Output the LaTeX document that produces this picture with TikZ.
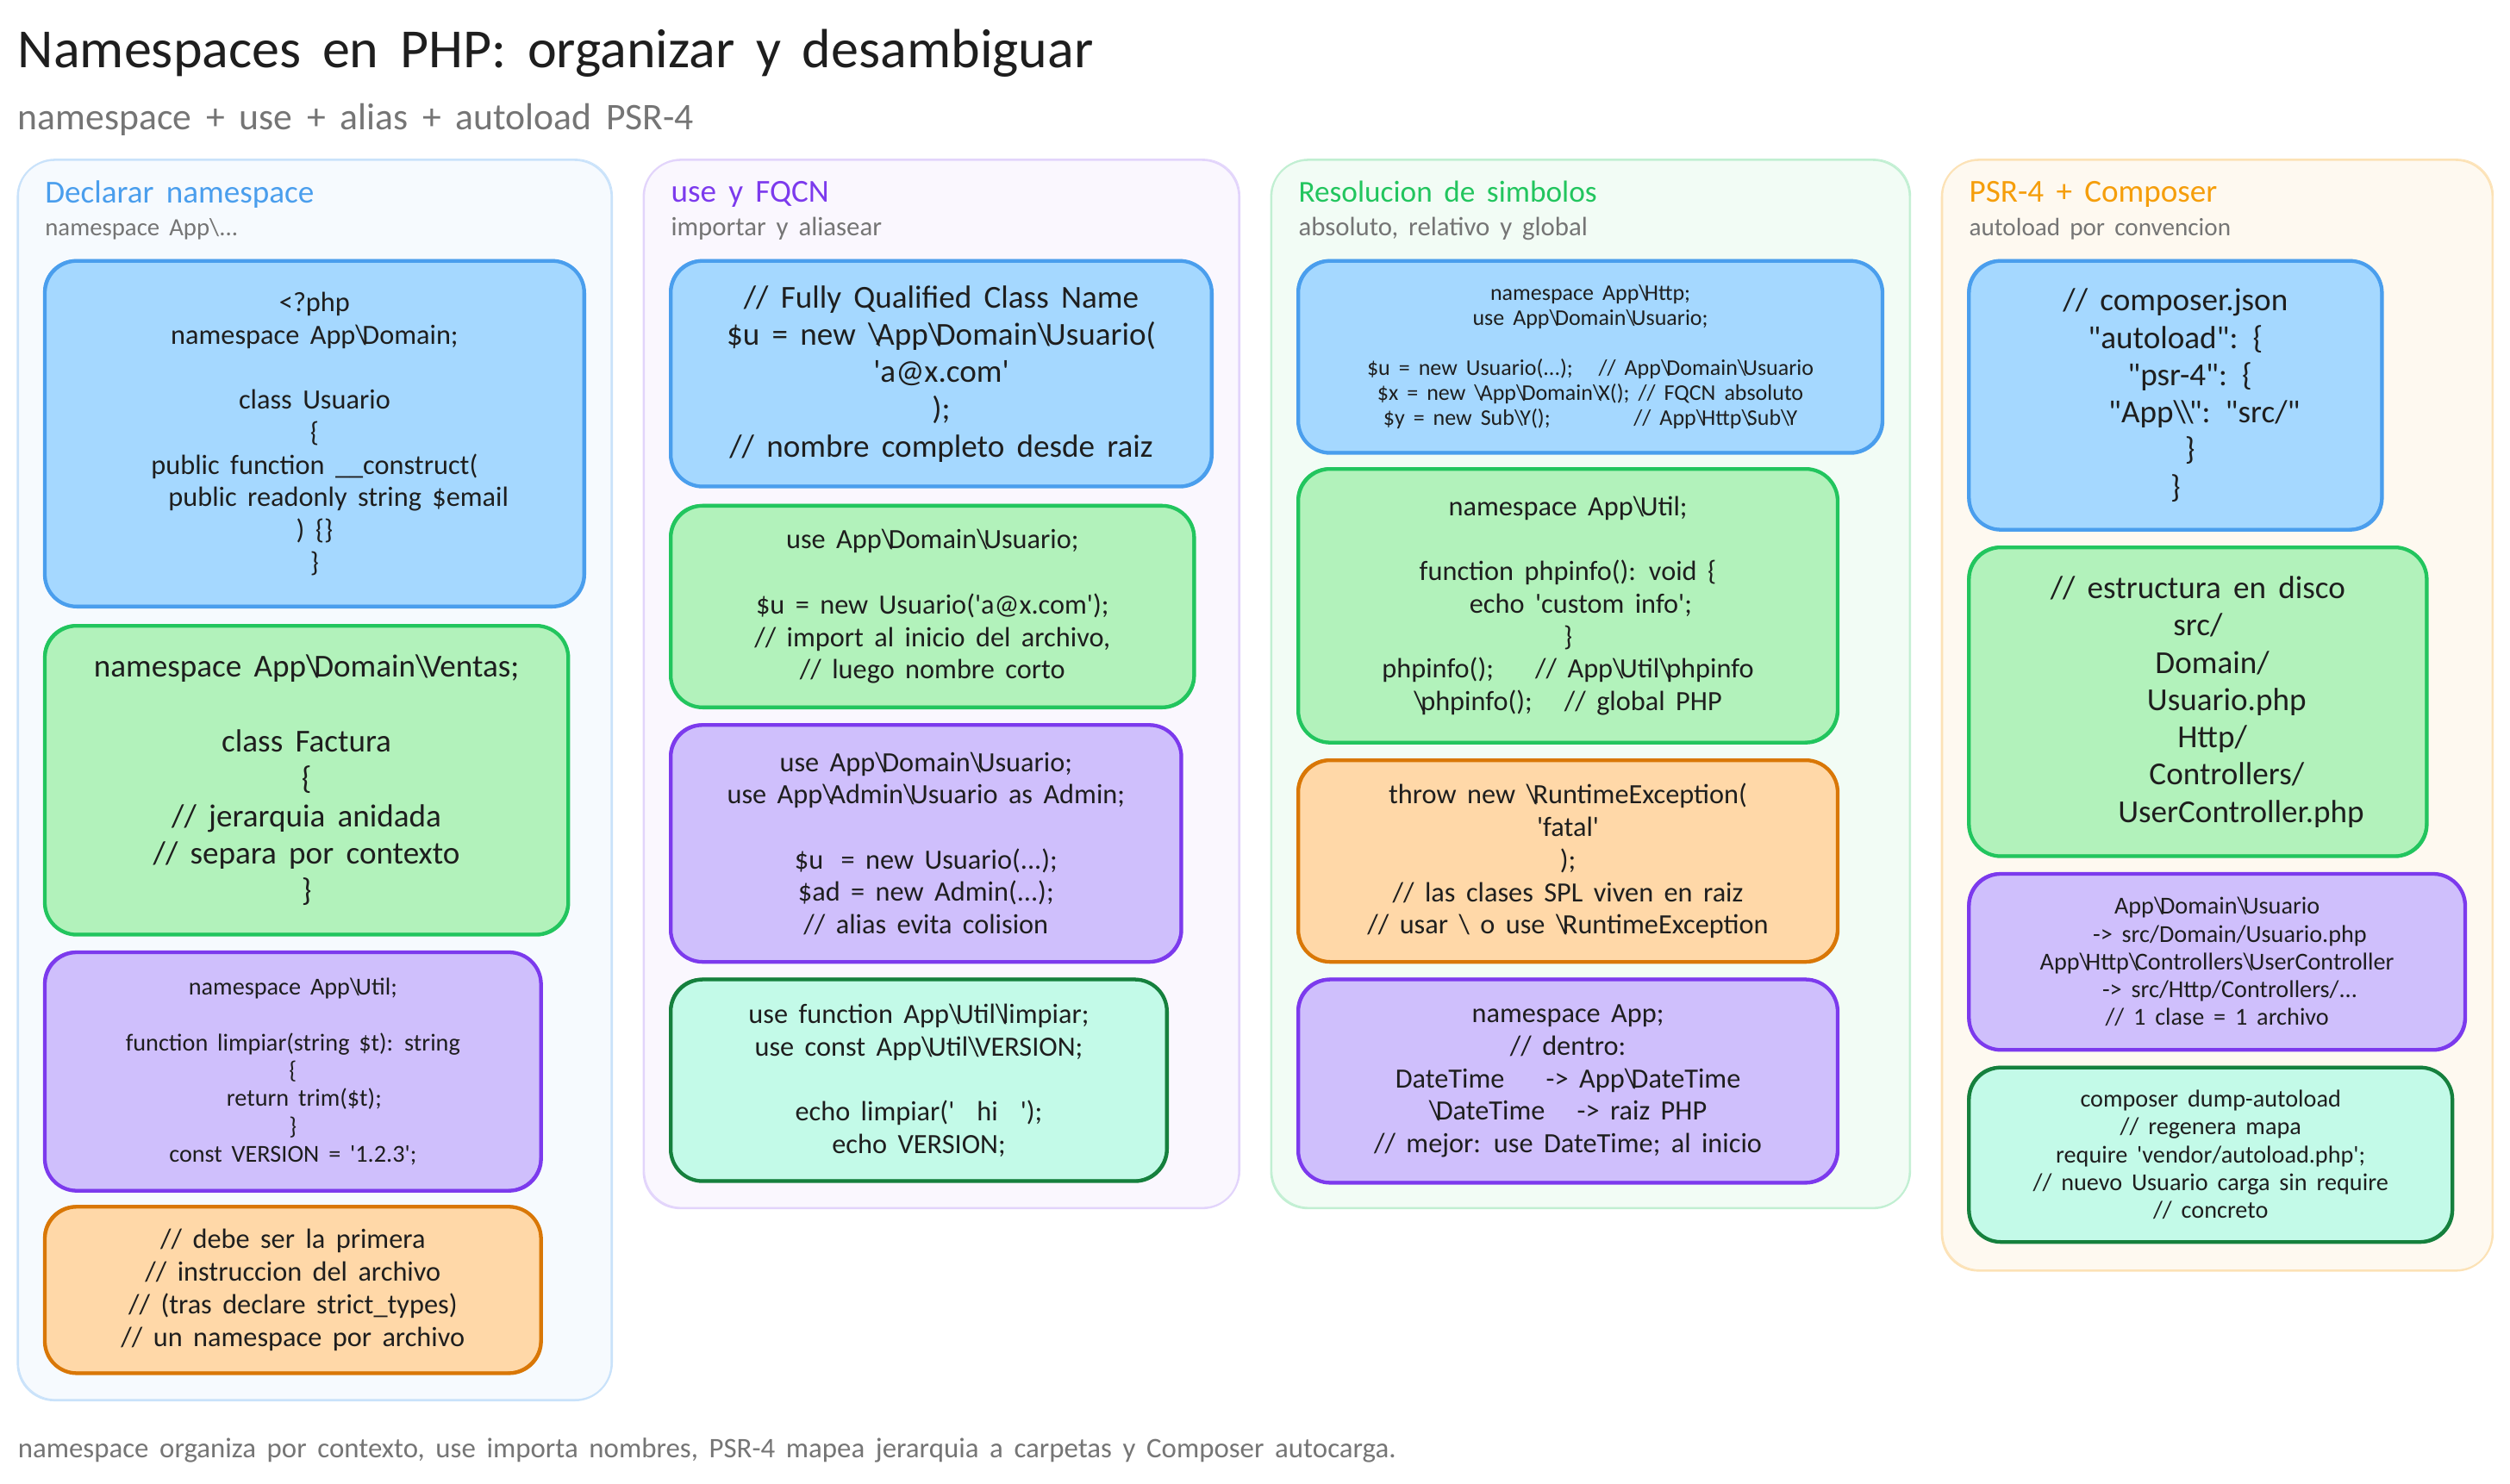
\documentclass[tikz,border=0pt]{standalone}
\usepackage{fontspec}
\newfontfamily\sketchfont[WordSpace=1.7]{Carlito}
\newcommand{\bs}{\textbackslash\kern-0.14em}
\newcommand{\ind}[1]{\hspace*{#1pt}}
\newcommand{\gap}[1]{\hspace{#1pt}}
\newcommand{\blank}{\mbox{}}
\definecolor{titleink}{HTML}{1E1E1E}
\definecolor{greyink}{HTML}{757575}
\definecolor{blueline}{HTML}{4A9EED}
\definecolor{bluefill}{HTML}{A5D8FF}
\definecolor{greenline}{HTML}{22C55E}
\definecolor{greenfill}{HTML}{B2F2BB}
\definecolor{violetline}{HTML}{7C3AED}
\definecolor{violetfill}{HTML}{CFBFFC}
\definecolor{orangeline}{HTML}{D97706}
\definecolor{orangefill}{HTML}{FFD8A8}
\definecolor{tealline}{HTML}{15803D}
\definecolor{tealfill}{HTML}{C3FAE8}
\definecolor{amberline}{HTML}{F59E0B}
\tikzset{
  panel/.style={draw,line width=1.1pt,rounded corners=23pt,inner sep=0pt,postaction={draw,line width=.5pt,transform canvas={shift={(.6pt,.6pt)}}}},
  codebox/.style={draw,line width=2.3pt,rounded corners=20pt,inner sep=0pt,align=center,text=titleink,postaction={draw,line width=.7pt,transform canvas={shift={(-.7pt,.7pt)}}}},
  bluebox/.style={codebox,draw=blueline,fill=bluefill},
  greenbox/.style={codebox,draw=greenline,fill=greenfill},
  violetbox/.style={codebox,draw=violetline,fill=violetfill},
  orangebox/.style={codebox,draw=orangeline,fill=orangefill},
  tealbox/.style={codebox,draw=tealline,fill=tealfill},
  codeS/.style={font=\sketchfont\fontsize{14}{15.7}\selectfont},
  codeM/.style={font=\sketchfont\fontsize{15.2}{17.4}\selectfont},
  codeL/.style={font=\sketchfont\fontsize{17.4}{20.3}\selectfont},
  codeXL/.style={font=\sketchfont\fontsize{20}{23.3}\selectfont},
  heading/.style={anchor=base west,inner sep=0pt,font=\sketchfont\fontsize{#1}{24}\selectfont},
  note/.style={anchor=base west,inner sep=0pt,text=greyink,font=\sketchfont\fontsize{#1}{18}\selectfont},
}
\begin{document}
\begin{tikzpicture}[x=1pt,y=-1pt]
\useasboundingbox (0,0) rectangle (1568,926.7);
\node[anchor=base west,inner sep=0pt,text=titleink,font=\sketchfont\fontsize{34.5}{40}\selectfont] (title) at (11,42) {Namespaces en PHP: organizar y desambiguar};
\node[anchor=base west,inner sep=0pt,text=greyink,font=\sketchfont\fontsize{23.5}{26}\selectfont] (subtitle) at (11,81) {namespace + use + alias + autoload PSR-4};
\node[panel,draw=blueline!30,fill=blueline!5,minimum width=371pt,minimum height=775pt] (declpanel) at (196.5,487.5) {};
\node[panel,draw=violetline!22,fill=violetline!4,minimum width=372pt,minimum height=655pt] (usepanel) at (588,427.5) {};
\node[panel,draw=greenline!28,fill=greenline!6,minimum width=399pt,minimum height=655pt] (respanel) at (993.5,427.5) {};
\node[panel,draw=amberline!30,fill=amberline!6,minimum width=344pt,minimum height=694pt] (psrpanel) at (1385,447) {};
\node[heading=20,text=blueline] (declhead) at (28,127) {Declarar namespace};
\node[note=15.5] (declnote) at (28,147) {namespace App\textbackslash...};
\node[heading=20,text=violetline] (usehead) at (419,126) {use y FQCN};
\node[note=16.6] (usenote) at (419,147) {importar y aliasear};
\node[heading=19,text=greenline] (reshead) at (811,126) {Resolucion de simbolos};
\node[note=16.6] (resnote) at (811,147) {absoluto, relativo y global};
\node[heading=20,text=amberline] (psrhead) at (1230,126) {PSR-4 + Composer};
\node[note=15.7] (psrnote) at (1230,147) {autoload por convencion};
\node[bluebox,codeL,minimum width=337pt,minimum height=216pt] (decla) at (196.5,271) {<?php\\namespace App\bs Domain;\\\blank\\class Usuario\\\{\\public function \_\_construct(\\\ind{30}public readonly string \$email\\) \{\}\\\}};
\node[greenbox,codeXL,minimum width=327pt,minimum height=193pt] (declb) at (191.5,487.5) {namespace App\bs Domain\bs Ventas;\\\blank\\class Factura\\\{\\// jerarquia anidada\\// separa por contexto\\\}};
\node[violetbox,codeM,minimum width=310pt,minimum height=149pt] (declc) at (183,669.5) {namespace App\bs Util;\\\blank\\function limpiar(string \$t): string\\\{\\\ind{14}return trim(\$t);\\\}\\const VERSION = '1.2.3';};
\node[orangebox,codeL,minimum width=310pt,minimum height=104pt] (decld) at (183,806) {// debe ser la primera\\// instruccion del archivo\\// (tras declare strict\_types)\\// un namespace por archivo};
\node[bluebox,codeXL,minimum width=338pt,minimum height=141pt] (usea) at (588,233.5) {// Fully Qualified Class Name\\\$u = new \bs App\bs Domain\bs Usuario(\\'a@x.com'\\);\\// nombre completo desde raiz};
\node[greenbox,codeL,minimum width=327pt,minimum height=126pt] (useb) at (582.5,379) {use App\bs Domain\bs Usuario;\\\blank\\\$u = new Usuario('a@x.com');\\// import al inicio del archivo,\\// luego nombre corto};
\node[violetbox,codeL,minimum width=319pt,minimum height=148pt] (usec) at (578.5,527) {use App\bs Domain\bs Usuario;\\use App\bs Admin\bs Usuario as Admin;\\\blank\\\$u\gap{11}= new Usuario(...);\\\$ad = new Admin(...);\\// alias evita colision};
\node[tealbox,codeL,minimum width=310pt,minimum height=126pt] (used) at (574,675) {use function App\bs Util\bs limpiar;\\use const App\bs Util\bs VERSION;\\\blank\\echo limpiar('\gap{14}hi\gap{14}');\\echo VERSION;};
\node[bluebox,codeS,minimum width=365pt,minimum height=120pt] (resa) at (993.5,223) {namespace App\bs Http;\\use App\bs Domain\bs Usuario;\\\blank\\\$u = new Usuario(...);\gap{16}// App\bs Domain\bs Usuario\\\$x = new \bs App\bs Domain\bs X(); // FQCN absoluto\\\$y = new Sub\bs Y();\gap{52}// App\bs Http\bs Sub\bs Y};
\node[greenbox,codeL,minimum width=337pt,minimum height=171pt] (resb) at (979.5,378.5) {namespace App\bs Util;\\\blank\\function phpinfo(): void \{\\\ind{16}echo 'custom info';\\\}\\phpinfo();\gap{26}// App\bs Util\bs phpinfo\\\bs phpinfo();\gap{20}// global PHP};
\node[orangebox,codeL,minimum width=337pt,minimum height=126pt] (resc) at (979.5,538) {throw new \bs RuntimeException(\\'fatal'\\);\\// las clases SPL viven en raiz\\// usar \textbackslash{} o use \bs RuntimeException};
\node[violetbox,codeL,minimum width=337pt,minimum height=127pt] (resd) at (979.5,675.5) {namespace App;\\// dentro:\\DateTime\gap{26}-> App\bs DateTime\\\bs DateTime\gap{20}-> raiz PHP\\// mejor: use DateTime; al inicio};
\node[bluebox,codeXL,minimum width=258pt,minimum height=168pt] (psra) at (1359,247) {// composer.json\\"autoload": \{\\\ind{18}"psr-4": \{\\\ind{36}"App\bs\bs": "src/"\\\ind{18}\}\\\}};
\node[greenbox,codeXL,minimum width=286pt,minimum height=193pt] (psrb) at (1373,438.5) {// estructura en disco\\src/\\\ind{18}Domain/\\\ind{36}Usuario.php\\\ind{18}Http/\\\ind{36}Controllers/\\\ind{54}UserController.php};
\node[violetbox,codeM,minimum width=310pt,minimum height=110pt] (psrc) at (1385,601) {App\bs Domain\bs Usuario\\\ind{16}-> src/Domain/Usuario.php\\App\bs Http\bs Controllers\bs UserController\\\ind{16}-> src/Http/Controllers/...\\// 1 clase = 1 archivo};
\node[tealbox,codeM,minimum width=302pt,minimum height=109pt] (psrd) at (1381,721.5) {composer dump-autoload\\// regenera mapa\\require 'vendor/autoload.php';\\// nuevo Usuario carga sin require\\// concreto};
\node[anchor=base west,inner sep=0pt,text=greyink,font=\sketchfont\fontsize{17.7}{20}\selectfont] (footer) at (11,911) {namespace organiza por contexto, use importa nombres, PSR-4 mapea jerarquia a carpetas y Composer autocarga.};
\end{tikzpicture}
\end{document}
